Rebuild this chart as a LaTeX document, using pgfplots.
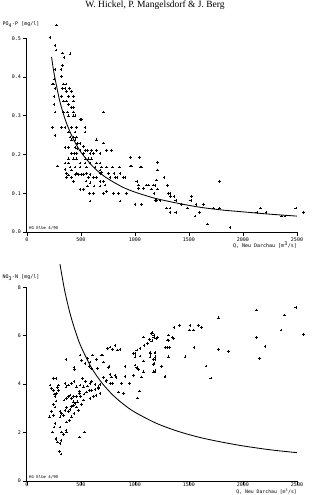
\documentclass[border=0pt]{standalone}
\usepackage{fontspec}
\setmainfont{Liberation Serif}
\setmonofont{DejaVu Sans Mono}
\usepackage{pgfplots}
\pgfplotsset{compat=1.18}

\pgfplotsset{
  plotter/.style={
    scale only axis,
    width=270.1pt, height=193.7pt,
    xmin=0, xmax=2500,
    axis lines=left,
    axis line style={-, line width=1pt},
    tick align=outside,
    major tick length=3.5pt,
    tick style={line width=0.6pt, black},
    xtick={0,500,...,2500},
    tick label style={font=\fontsize{5}{6}\selectfont\ttfamily},
    /pgf/number format/assume math mode=true,
    /pgf/number format/1000 sep={},
    xticklabel style={yshift=1pt},
    yticklabel style={xshift=1pt},
    clip=false,
  },
  pts/.style={only marks, mark=+, mark size=1.35pt, black, mark options={line width=0.55pt}},
  fit/.style={black, line width=0.85pt, smooth, no marks},
}

\begin{document}
\begin{tikzpicture}
\useasboundingbox (0,0) rectangle (311pt,-495pt);

% ---------------- phosphate ----------------
\begin{axis}[plotter, at={(26.9pt,-232pt)}, anchor=south west,
  ymin=0, ymax=0.5, ytick={0,0.1,...,0.5},
  yticklabel style={/pgf/number format/.cd, fixed, fixed zerofill, precision=1}]
\addplot[pts] table {
276 0.534
214 0.502
260 0.481
270 0.470
331 0.462
344 0.451
399 0.460
331 0.430
317 0.420
260 0.420
322 0.401
251 0.395
235 0.382
245 0.382
337 0.382
362 0.382
260 0.371
331 0.371
353 0.371
392 0.371
369 0.362
415 0.362
251 0.350
322 0.350
384 0.350
430 0.350
340 0.338
369 0.338
430 0.338
384 0.330
415 0.321
430 0.321
251 0.330
260 0.310
340 0.310
375 0.310
430 0.310
384 0.300
430 0.300
445 0.300
492 0.290
507 0.290
707 0.310
235 0.270
322 0.270
353 0.270
415 0.270
461 0.270
538 0.270
538 0.258
260 0.250
384 0.258
446 0.258
399 0.245
430 0.245
461 0.245
415 0.238
446 0.238
646 0.238
467 0.228
492 0.228
708 0.230
353 0.219
384 0.219
446 0.219
467 0.215
523 0.221
538 0.211
600 0.211
646 0.211
739 0.211
492 0.211
560 0.211
415 0.202
436 0.202
461 0.202
523 0.202
585 0.202
615 0.202
677 0.202
785 0.211
430 0.189
461 0.189
538 0.189
569 0.189
600 0.189
384 0.189
353 0.178
384 0.178
492 0.178
538 0.178
585 0.178
646 0.178
677 0.178
282 0.170
399 0.168
446 0.168
492 0.168
554 0.168
631 0.168
693 0.168
739 0.168
794 0.168
856 0.168
955 0.170
970 0.170
1047 0.168
1063 0.168
353 0.161
415 0.160
677 0.160
368 0.151
461 0.151
507 0.149
554 0.151
585 0.149
677 0.151
693 0.153
754 0.151
807 0.151
862 0.151
909 0.141
384 0.147
415 0.141
446 0.149
476 0.149
523 0.149
569 0.141
615 0.141
646 0.141
770 0.141
816 0.141
832 0.141
893 0.141
368 0.141
430 0.130
547 0.132
585 0.127
677 0.130
708 0.130
723 0.121
492 0.110
523 0.110
563 0.119
622 0.119
677 0.119
578 0.100
615 0.100
708 0.100
739 0.104
801 0.100
847 0.100
924 0.100
1017 0.130
1032 0.121
1109 0.121
1078 0.113
1032 0.113
862 0.080
585 0.080
1001 0.071
1063 0.071
1202 0.081
1233 0.081
961 0.192
1041 0.192
1125 0.121
1171 0.121
1202 0.134
1208 0.179
1208 0.160
1186 0.120
1155 0.111
1208 0.111
1177 0.100
1270 0.141
1300 0.120
1310 0.100
1325 0.100
1186 0.081
1331 0.091
1362 0.091
1378 0.081
1294 0.062
1325 0.062
1325 0.051
1378 0.051
1433 0.071
1486 0.062
1517 0.081
1526 0.091
1566 0.071
1557 0.041
1600 0.051
1634 0.071
1674 0.021
1727 0.062
1782 0.131
1782 0.062
1881 0.011
2128 0.051
2159 0.062
2214 0.051
2359 0.041
2390 0.041
2489 0.062
2560 0.051
};
\addplot[fit] table {
228 0.452
250 0.412
300 0.343
350 0.294
400 0.258
450 0.229
500 0.206
600 0.172
700 0.147
800 0.129
900 0.114
1000 0.103
1100 0.094
1200 0.086
1400 0.074
1600 0.064
1800 0.057
2000 0.052
2250 0.046
2500 0.041
};
\node[anchor=south west, inner sep=0.5pt, font=\fontsize{4}{4.5}\selectfont\ttfamily] at (axis cs:15,0.004) {HG Elbe 4/90};
\end{axis}

% ---------------- nitrate ----------------
\begin{axis}[plotter, at={(26.9pt,-481pt)}, anchor=south west,
  ymin=0, ymax=8, ytick={0,2,...,8},
  xticklabel style={inner sep=0.5pt, yshift=1.6pt}]
\addplot[pts] table {
245 4.24
270 4.24
214 3.96
230 3.82
245 3.75
254 3.59
260 3.48
270 3.31
245 3.17
260 3.06
208 2.65
230 2.86
245 2.72
291 3.96
282 3.86
291 3.75
276 3.61
260 2.37
251 2.23
239 2.03
270 1.75
282 1.61
307 1.54
316 1.68
322 2.03
307 2.23
338 1.92
362 2.10
368 2.03
486 1.82
532 2.03
307 2.86
322 2.79
307 2.65
338 2.72
353 2.92
384 2.86
368 3.03
399 2.95
415 3.09
430 3.27
446 3.20
344 3.34
368 3.41
384 3.48
399 3.55
415 3.41
430 3.48
461 3.50
486 3.61
498 3.48
529 3.59
554 3.68
578 3.75
600 3.75
631 3.78
662 3.82
585 3.41
615 3.48
640 3.53
523 3.34
507 3.17
461 3.06
476 2.92
436 2.79
415 2.65
393 2.51
368 2.44
353 4.03
362 3.89
384 3.96
415 4.03
436 4.10
461 3.89
492 3.96
523 3.89
560 3.92
585 4.03
600 4.10
631 4.00
662 3.89
486 3.72
430 3.13
467 3.27
517 4.24
541 4.10
362 5.02
436 4.69
443 4.61
492 5.20
507 4.99
538 4.86
560 5.06
585 4.92
609 5.20
646 5.02
600 4.65
578 4.72
652 4.65
692 5.20
745 5.48
770 5.54
794 5.43
816 5.59
838 5.41
862 5.43
760 4.72
708 4.28
785 4.30
816 4.37
770 4.41
733 4.10
770 4.03
794 4.03
677 3.99
847 3.68
909 4.72
949 4.03
986 5.27
1017 5.41
1047 5.48
1085 5.61
1115 5.68
1156 5.79
1202 5.89
1001 5.13
1047 5.16
1001 4.79
1023 4.65
1023 3.43
1041 3.72
1177 4.86
1186 4.55
702 5.20
708 4.92
754 4.69
739 4.17
825 4.28
878 4.03
909 4.33
893 3.61
677 3.62
1001 5.26
1078 5.95
1134 5.84
1155 6.09
1146 5.26
1186 5.29
1171 5.02
1078 4.96
1017 4.69
1032 4.60
1078 4.51
986 4.37
1063 4.30
1171 4.51
1279 4.33
1310 5.13
1310 5.81
1356 5.88
1362 6.34
1412 6.43
1140 5.31
1186 5.31
1140 5.13
1186 5.13
1186 5.02
1171 4.81
1186 4.51
1248 4.72
1279 4.30
1165 6.12
1175 6.03
1175 5.93
1208 5.93
1310 6.03
1300 5.82
1350 5.93
1510 6.43
1504 6.24
1541 6.24
1588 6.43
1618 6.33
1279 5.52
1300 5.52
1319 5.52
1547 5.52
1464 5.13
1659 4.75
1702 4.25
1773 6.74
1773 5.43
1865 5.34
2122 7.06
2122 5.93
2205 5.55
2153 5.05
2353 6.24
2384 6.86
2489 7.16
2560 6.04
270 1.72
300 1.21
316 1.11
};
\addplot[fit] table {
306 8.96
350 7.86
400 6.91
450 6.17
500 5.56
600 4.66
700 4.02
800 3.53
900 3.15
1000 2.84
1200 2.38
1400 2.05
1600 1.80
1800 1.61
2000 1.45
2250 1.29
2500 1.17
};
\node[anchor=south west, inner sep=0.5pt, font=\fontsize{4}{4.5}\selectfont\ttfamily] at (axis cs:15,0.06) {HG Elbe 4/90};
\end{axis}

% titles and axis names
\node[anchor=base, font=\fontsize{9.5}{11}\selectfont] at (155pt,-7.8pt) {W. Hickel, P. Mangelsdorf \& J. Berg};
\begin{scope}[every node/.style={font=\fontsize{5}{6}\selectfont\ttfamily, inner sep=0pt}]
\node[anchor=west] at (2.5pt,-25pt) {PO\textsubscript{4}-P [mg/l]};
\node[anchor=east] at (297pt,-245pt) {Q, Neu Darchau [m\textsuperscript{3}/s]};
\node[anchor=west] at (2.5pt,-277.5pt) {NO\textsubscript{3}-N [mg/l]};
\node[anchor=east, font=\fontsize{4.8}{5.5}\selectfont\ttfamily] at (297pt,-491.6pt) {Q, Neu Darchau [m\textsuperscript{3}/s]};
\end{scope}
\end{tikzpicture}
\end{document}
